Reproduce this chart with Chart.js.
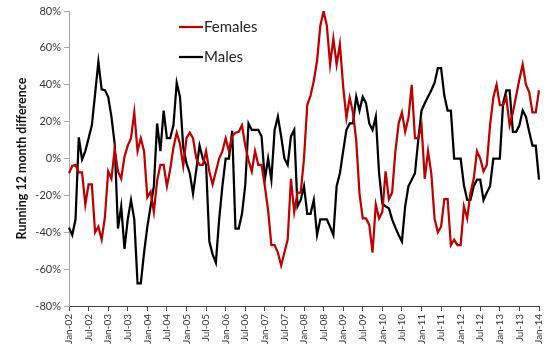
<!DOCTYPE html>
<html>
<head>
<meta charset="utf-8">
<script src="https://cdn.jsdelivr.net/npm/chart.js@4.4.0/dist/chart.umd.min.js"></script>
<style>
  html, body { margin: 0; padding: 0; background: #fff; }
  #wrap { width: 554px; height: 363px; }
</style>
</head>
<body>
<div id="wrap"><canvas id="chart" width="554" height="363"></canvas></div>
<script>
// monthly categories Jan-02 .. Jan-14
const monthNames = ["Jan", "Feb", "Mar", "Apr", "May", "Jun", "Jul", "Aug", "Sep", "Oct", "Nov", "Dec"];
const years = ["02", "03", "04", "05", "06", "07", "08", "09", "10", "11", "12", "13", "14"];
const months = [];
years.forEach(y => monthNames.forEach(m => months.push(m + "-" + y)));
months.length = 145;

// running 12 month difference, %
const females = [
  -8, -4, -3.5, -7.5, -7.5, -25, -14, -14, -40, -37, -44, -32,
  -7, -11, 5, -7, -11, 1, 7, 11, 25, 4, 11, 4,
  -21, -18, -29, -12, -3.5, -3.5, -15, -6, 6, 14, 8, -4,
  11, 14, 11, 0, -3.5, -3.5, 4, -7, -14, -7, 0, 4,
  11, 4, 12, 14, 14.5, 18, 7, -1, -7, 4, -3.5, -3.5,
  -15, -28, -47, -47, -51, -58, -51, -44, -11, -29, -18.5, -18.5,
  0, 29, 34, 42, 53, 72, 80, 72, 51, 65, 51, 62,
  39, 22, 33, 25, 10, -19, -32.5, -32.5, -36, -51, -25, -32.5,
  -29, -7, -22, -18.5, 4, 19, 25, 14.5, 22, 40, 11, 11,
  18, -11, 4, -8, -32.5, -40, -37, -22, -22, -47, -44, -47,
  -47, -26, -32.5, -18.5, -11, 4, 0, -7, -3.5, 18, 33, 40,
  29, 29, 33, 18, 25, 34, 43, 51, 40, 36, 25, 25,
  37
];
const males = [
  -37.5, -41.5, -33, 11.5, -0.5, 4, 11, 18, 35, 52.5, 37.5, 37,
  33.5, 22.7, 8, -38, -26, -49, -33, -22.5, -33, -67.7, -67.7, -51,
  -37, -26, -15, 19, 4, 26, 11, 11, 18, 41, 33.5, 6,
  -2.6, -8, -19, -6, 7, 0, -3.5, -45, -52, -56.5, -33, -15,
  0, 0, 15, -38, -38, -30, -14.5, 19, 15.5, 15.5, 15.5, 12,
  -11.5, 0, -11.5, 15.5, 22.7, 12, 0, -3.5, 12, 15.5, -26, -22.5,
  -15, -30, -30, -22.5, -41.5, -33, -33, -33, -37, -41.5, -15, -8,
  4, 15.5, 19, 19, 33.5, 26, 33.5, 30, 19, 15.5, 22.7, -8,
  -24.5, -26, -27, -33, -37.5, -41.5, -45, -26, -15, -11.5, -8, 10,
  26, 30, 33.5, 37, 41, 49, 49, 34, 26, 26, 0, 0,
  0, -14.5, -22.5, -22.5, -15, -11.5, -11.5, -22.5, -18.5, -15, 0, 0,
  0, 30, 37, 37, 14.5, 14.5, 18, 26, 22.7, 14.5, 7, 7,
  -11.5
];

const yTicks = [-80, -60, -40, -20, 0, 20, 40, 60, 80];
const labelEvery = 6;

const font = "Lato, 'Open Sans', sans-serif";

// legend drawn inside the plot, upper middle
const insideLegend = {
  id: "insideLegend",
  afterDraw(chart) {
    const ctx = chart.ctx;
    ctx.save();
    chart.data.datasets.forEach((ds, k) => {
      const y = 27 + k * 30;
      ctx.strokeStyle = ds.borderColor;
      ctx.lineWidth = 2.25;
      ctx.beginPath();
      ctx.moveTo(179, y);
      ctx.lineTo(203, y);
      ctx.stroke();
      ctx.fillStyle = "#222";
      ctx.font = "15px " + font;
      ctx.textBaseline = "middle";
      ctx.fillText(ds.label, 204, y);
    });
    ctx.restore();
  }
};

new Chart(document.getElementById("chart").getContext("2d"), {
  type: "line",
  data: {
    labels: months,
    datasets: [
      { label: "Females", data: females, borderColor: "#C00000", borderWidth: 2.25, pointRadius: 0, tension: 0, fill: false },
      { label: "Males", data: males, borderColor: "#000000", borderWidth: 2.25, pointRadius: 0, tension: 0, fill: false }
    ]
  },
  options: {
    responsive: false,
    animation: false,
    devicePixelRatio: 1,
    layout: { padding: { top: 11, right: 10, left: 0, bottom: 0 } },
    plugins: { legend: { display: false }, tooltip: { enabled: false } },
    scales: {
      x: {
        afterFit(scale) { scale.height = 57; },
        border: { color: "#404040", width: 1 },
        grid: {
          drawOnChartArea: false,
          tickLength: 5,
          color: c => (c.index % labelEvery === 0 ? "#404040" : "transparent")
        },
        ticks: {
          autoSkip: false,
          maxRotation: 90,
          minRotation: 90,
          padding: 3,
          color: "#333",
          font: { family: font, size: 10 },
          callback: (v, i) => (i % labelEvery === 0 ? months[i] : "")
        }
      },
      y: {
        min: yTicks[0],
        max: yTicks[yTicks.length - 1],
        afterFit(scale) { scale.width = 69; },
        border: { color: "#A6A6A6", width: 1 },
        grid: { drawOnChartArea: false, tickLength: 5, color: "#A6A6A6" },
        afterBuildTicks(scale) { scale.ticks = yTicks.map(v => ({ value: v })); },
        ticks: {
          padding: 3,
          color: "#333",
          font: { family: font, size: 11 },
          callback: v => v + "%"
        },
        title: {
          display: true,
          text: "Running 12 month difference",
          color: "#111",
          font: { family: font, size: 12.5, weight: "bold" },
          padding: { top: 14, bottom: 0 }
        }
      }
    }
  },
  plugins: [insideLegend]
});
</script>
</body>
</html>
